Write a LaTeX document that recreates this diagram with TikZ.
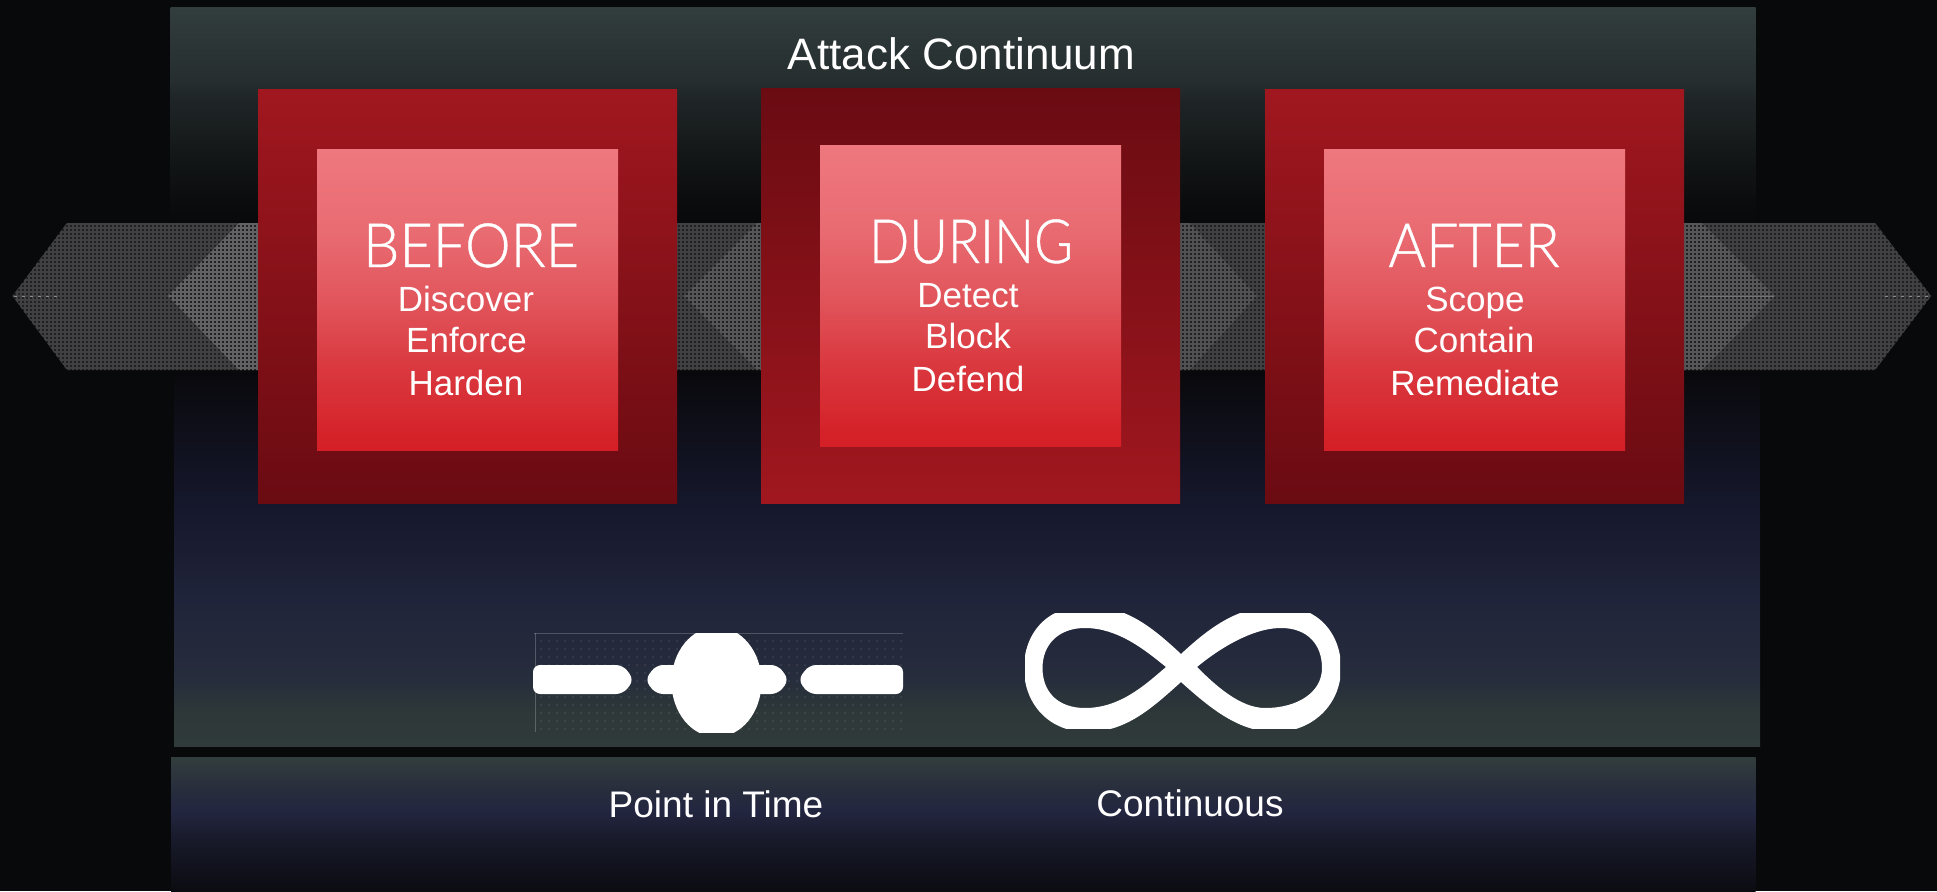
\documentclass[tikz,border=0pt]{standalone}
\usepackage{fontspec}
\setmainfont{Liberation Sans}
\newfontfamily\lightf[FakeBold=0.7]{Lato Light}
\definecolor{bgc}{HTML}{08090B}
\definecolor{pa}{HTML}{323D3D}
\definecolor{pb}{HTML}{262E2F}
\definecolor{pc}{HTML}{1F2527}
\definecolor{pd}{HTML}{141819}
\definecolor{pe}{HTML}{0B0C0E}
\definecolor{pf}{HTML}{08090B}
\definecolor{pg}{HTML}{09090C}
\definecolor{ph}{HTML}{0C0C13}
\definecolor{pi}{HTML}{15172B}
\definecolor{pj}{HTML}{20243A}
\definecolor{pk}{HTML}{262D3C}
\definecolor{pl}{HTML}{2E3838}
\definecolor{qa}{HTML}{323D3D}
\definecolor{qb}{HTML}{282D3D}
\definecolor{qc}{HTML}{232640}
\definecolor{qd}{HTML}{181A2A}
\definecolor{qe}{HTML}{0B0B11}
\definecolor{ra}{HTML}{EE787E}
\definecolor{rb}{HTML}{E96B72}
\definecolor{rc}{HTML}{E1565C}
\definecolor{rd}{HTML}{DA3940}
\definecolor{re}{HTML}{D52229}
\definecolor{rf}{HTML}{D51F27}
\definecolor{oa}{HTML}{A1171F}
\definecolor{ob}{HTML}{6A0B12}
\definecolor{holec}{HTML}{202022}
\definecolor{darkg}{HTML}{404042}
\definecolor{midg}{HTML}{565658}
\definecolor{lightg}{HTML}{626264}
\pgfdeclareverticalshading{panelshade}{100bp}{color(0bp)=(pl);color(25bp)=(pl!60!pa);color(27.2bp)=(pl);color(29.5bp)=(pk);color(34.9bp)=(pj);color(41.6bp)=(pi);color(48.4bp)=(ph);color(50.4bp)=(pg);color(60.25bp)=(pf);color(61.9bp)=(pe);color(65.3bp)=(pd);color(68.7bp)=(pc);color(70.06bp)=(pb);color(75bp)=(pa);color(100bp)=(pa)}
\pgfdeclareverticalshading{footshade}{100bp}{color(0bp)=(qe);color(25bp)=(qe);color(44bp)=(qd);color(55.2bp)=(qc);color(62.7bp)=(qb);color(75bp)=(qa);color(100bp)=(qa)}
\pgfdeclareverticalshading{innershade}{100bp}{color(0bp)=(rf);color(25bp)=(rf);color(27.5bp)=(re);color(39bp)=(rd);color(50bp)=(rc);color(61bp)=(rb);color(75bp)=(ra);color(100bp)=(ra)}
\pgfdeclareverticalshading{outerdown}{100bp}{color(0bp)=(ob);color(25bp)=(ob);color(75bp)=(oa);color(100bp)=(oa)}
\pgfdeclareverticalshading{outerup}{100bp}{color(0bp)=(oa);color(25bp)=(oa);color(75bp)=(ob);color(100bp)=(ob)}
\tikzset{
  outerbox/.style={shading=outerdown},
  outerboxup/.style={shading=outerup},
  innerbox/.style={shading=innershade},
  bigword/.style={text=white,anchor=base,font=\lightf\fontsize{61}{61}\selectfont},
  smallword/.style={text=white,anchor=base,font=\fontsize{35}{40}\selectfont},
  caption/.style={text=white,anchor=base,font=\fontsize{37}{42}\selectfont},
  titleword/.style={text=white,anchor=base,font=\fontsize{44}{50}\selectfont},
  gridline/.style={line width=2pt},
}
\newcommand{\meshfill}[2]{%
  \begin{scope}
    \clip #1;
    \fill[holec] (0,215) rectangle (1937,380);
    \draw[gridline,#2] foreach \gx in {1,5,...,1937} {(\gx,215)--(\gx,380)};
    \draw[gridline,#2] foreach \gy in {216,220,...,380} {(0,\gy)--(1937,\gy)};
  \end{scope}}
\begin{document}
\begin{tikzpicture}[x=1pt,y=-1pt]
\useasboundingbox (0,0) rectangle (1937,891);
\fill[bgc] (0,0) rectangle (1937,891);
% main panel
\begin{scope}
  \clip (170.5,8) rectangle (1755.5,296);
  \shade[shading=panelshade] (170,7) rectangle (1760,746);
\end{scope}
\begin{scope}
  \clip (174,296) rectangle (1760,746);
  \shade[shading=panelshade] (170,7) rectangle (1760,746);
\end{scope}
% foot panel
\shade[shading=footshade] (171,757) rectangle (1755.5,891);
% band
\meshfill{(12.5,296)--(67,223)--(1875,223)--(1931,296)--(1875,370)--(67,370)--cycle}{darkg}
\meshfill{(168,296)--(239,223)--(300,223)--(300,370)--(239,370)--cycle}{lightg}
\meshfill{(684,296)--(757,223)--(800,223)--(800,370)--(757,370)--cycle}{midg}
\meshfill{(1190,223)--(1257,296)--(1190,370)--(1150,370)--(1150,223)--cycle}{midg!75!darkg}
\meshfill{(1650,223)--(1702,223)--(1775,296)--(1702,370)--(1650,370)--cycle}{midg}
\draw[white,opacity=.4,line width=1pt,dash pattern=on 3pt off 5pt] (14,296)--(60,296);
\draw[white,opacity=.18,line width=1pt] (1700,296)--(1774,296);
\draw[white,opacity=.4,line width=1pt,dash pattern=on 3pt off 5pt] (1885,296)--(1930,296);
% boxes
\shade[outerbox] (258,89) rectangle (677,503);
\shade[outerboxup] (761,88) rectangle (1180,503);
\shade[outerbox] (1265,89) rectangle (1684,503);
\shade[innerbox] (317,149) rectangle (618,450);
\shade[innerbox] (820,145) rectangle (1121,446);
\shade[innerbox] (1324,149) rectangle (1625,450);
% text
\node[titleword] (title) at (961.5,70) {Attack Continuum};
\node[bigword] (before) at (471,267) {\scalebox{.945}[1]{BEFORE}};
\node[smallword] (b1) at (466,311) {Discover};
\node[smallword] (b2) at (466.5,352) {Enforce};
\node[smallword] (b3) at (466,395) {Harden};
\node[bigword] (during) at (971,263) {\scalebox{.87}[1]{DURING}};
\node[smallword] (d1) at (968,307) {Detect};
\node[smallword] (d2) at (968,348) {Block};
\node[smallword] (d3) at (968,391) {Defend};
\node[bigword] (after) at (1474,267) {\scalebox{.94}[1]{AFTER}};
\node[smallword] (a1) at (1475,311) {Scope};
\node[smallword] (a2) at (1474,352) {Contain};
\node[smallword] (a3) at (1475,395) {Remediate};
\node[caption] (pit) at (716,817) {Point in Time};
\node[caption] (cont) at (1190,816) {Continuous};
% point-in-time icon
\fill[white,opacity=.07] foreach \dx in {540,548,...,900} {foreach \dy in {640,648,...,730} {(\dx,\dy) rectangle ++(2,2)}};
\draw[white,opacity=.2,line width=1pt] (534,633.5)--(903,633.5);
\draw[white,opacity=.22,line width=1pt] (535,633)--(535,732);
\begin{scope}
  \clip (533,633) rectangle (903,732);
  \fill[white] (716.5,682) ellipse [x radius=45,y radius=55];
\end{scope}
\fill[white,rounded corners=7pt] (533,665)--(623,665)--(634,680)--(623,694)--(533,694)--cycle;
\fill[white,rounded corners=7pt] (656,665)--(778,665)--(789,680)--(778,694)--(656,694)--(645,680)--cycle;
\fill[white,rounded corners=7pt] (903,665)--(809,665)--(798,680)--(809,694)--(903,694)--cycle;
% infinity icon
\begin{scope}
  \clip (1025,613) rectangle (1340,728);
  \fill[white,even odd rule]
    (1181,654) .. controls (1150,625) and (1125,606) .. (1087,606)
    .. controls (1045,606) and (1024,635) .. (1024,668)
    .. controls (1024,705) and (1050,732) .. (1087,732)
    .. controls (1125,732) and (1150,710) .. (1181,682)
    .. controls (1212,710) and (1240,732) .. (1275,732)
    .. controls (1312,732) and (1341,705) .. (1341,668)
    .. controls (1341,635) and (1320,606) .. (1278,606)
    .. controls (1240,606) and (1212,625) .. (1181,654) -- cycle
    (1166,667) .. controls (1145,650) and (1118,628) .. (1085,628)
    .. controls (1058,628) and (1042.5,645) .. (1042.5,668)
    .. controls (1042.5,692) and (1058,708) .. (1085,708)
    .. controls (1120,708) and (1145,685) .. (1166,667) -- cycle
    (1197,667) .. controls (1215,652) and (1250,628) .. (1281,628)
    .. controls (1308,628) and (1322,645) .. (1322,668)
    .. controls (1322,692) and (1298,708) .. (1265,708)
    .. controls (1240,708) and (1215,685) .. (1197,667) -- cycle;
\end{scope}
\end{tikzpicture}
\end{document}
